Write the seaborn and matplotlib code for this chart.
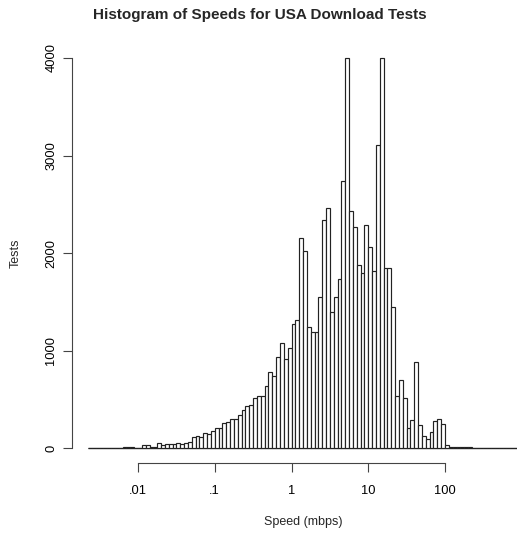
import numpy as np
import pandas as pd
import matplotlib
matplotlib.use("Agg")
import matplotlib.pyplot as plt
import seaborn as sns

# ---- data (log10 speed bins, width 0.05, starting at log10 = -2.65) ----
bin_start = -2.65
bin_width = 0.05
counts = [
    2, 0, 2, 0, 2, 0, 2, 5, 2, 7,          # 0-9
    7, 7, 2, 4, 28, 28, 8, 14, 51, 33,     # 10-19
    38, 41, 41, 51, 44, 51, 62, 113, 118, 110,  # 20-29
    154, 144, 171, 205, 205, 256, 267, 298, 298, 335,  # 30-39
    390, 428, 445, 510, 530, 530, 633, 780, 739, 934,  # 40-49
    1077, 913, 1026, 1272, 1310, 2151, 2021, 1241, 1190, 1190,  # 50-59
    1552, 2339, 2459, 1395, 1549, 1735, 2736, 3995, 2435, 2264,  # 60-69
    1874, 1796, 2285, 2062, 1813, 3109, 3995, 1847, 1847, 1443,  # 70-79
    537, 698, 516, 205, 291, 882, 239, 120, 96, 164,  # 80-89
    280, 298, 246, 31, 10, 10, 10, 10, 10, 10,  # 90-99
    0, 0, 0, 0, 0, 0, 0, 0, 0, 0, 0, 0, 0,      # 100-112
]
x_ticks = [-2, -1, 0, 1, 2]
x_tick_labels = [".01", ".1", "1", "10", "100"]
y_ticks = [0, 1000, 2000, 3000, 4000]
y_tick_labels = ["0", "1000", "2000", "3000", "4000"]

edges = list(bin_start + bin_width * np.arange(len(counts) + 1))
centers = [(a + b) / 2 for a, b in zip(edges[:-1], edges[1:])]
df = pd.DataFrame({"logspeed": centers, "tests": counts})

sns.set_style("white")
plt.rcParams["font.family"] = ["Liberation Sans", "DejaVu Sans"]

W, H = 517, 533
fig = plt.figure(figsize=(W / 100, H / 100), dpi=100)

# axes geometry in pixels
ax_left, ax_right = 72, 517
ax_top, ax_bottom = 30, 463
ax = fig.add_axes([ax_left / W, 1 - ax_bottom / H,
                   (ax_right - ax_left) / W, (ax_bottom - ax_top) / H])

# baseline under the bins (zero-count bins in R draw as a flat line)
ax.hlines(0, edges[0], edges[-1], color="#333333", linewidth=0.9, zorder=0)

sns.histplot(data=df, x="logspeed", weights="tests", bins=edges,
             stat="count", element="bars", fill=True,
             color="white", edgecolor="#222222", linewidth=0.85, alpha=1,
             ax=ax)

# data -> pixel mapping derived from the reference axes
px_per_dec = (445 - 138) / 4.0
px_per_cnt = (448 - 58) / 4000.0
ax.set_xlim(-2 - (138 - ax_left) / px_per_dec, 2 + (ax_right - 445) / px_per_dec)
ax.set_ylim(-(ax_bottom - 448) / px_per_cnt, 4000 + (58 - ax_top) / px_per_cnt)

for s in ["top", "right"]:
    ax.spines[s].set_visible(False)
ax.spines["left"].set_bounds(0, 4000)
ax.spines["bottom"].set_bounds(-2, 2)
for s in ["left", "bottom"]:
    ax.spines[s].set_color("#444444")
    ax.spines[s].set_linewidth(0.8)

ax.set_xticks(x_ticks)
ax.set_xticklabels(x_tick_labels)
ax.set_yticks(y_ticks)
ax.set_yticklabels(y_tick_labels, rotation=90, va="center")
ax.tick_params(axis="both", direction="out", length=6.5, width=0.8,
               colors="#444444", labelcolor="black", labelsize=9.3,
               bottom=True, left=True)
ax.tick_params(axis="x", pad=9)
ax.tick_params(axis="y", pad=4)
ax.set_xlabel("")
ax.set_ylabel("")
ax.grid(False)

fig.text(260 / W, 1 - 14.5 / H, "Histogram of Speeds for USA Download Tests",
         ha="center", va="center", fontsize=11, fontweight="bold")
fig.text(303 / W, 1 - 522 / H, "Speed (mbps)", ha="center", va="center",
         fontsize=9)
fig.text(16 / W, 1 - 253 / H, "Tests", ha="center", va="center",
         fontsize=9, rotation=90)

fig.savefig("out.png", dpi=100)
